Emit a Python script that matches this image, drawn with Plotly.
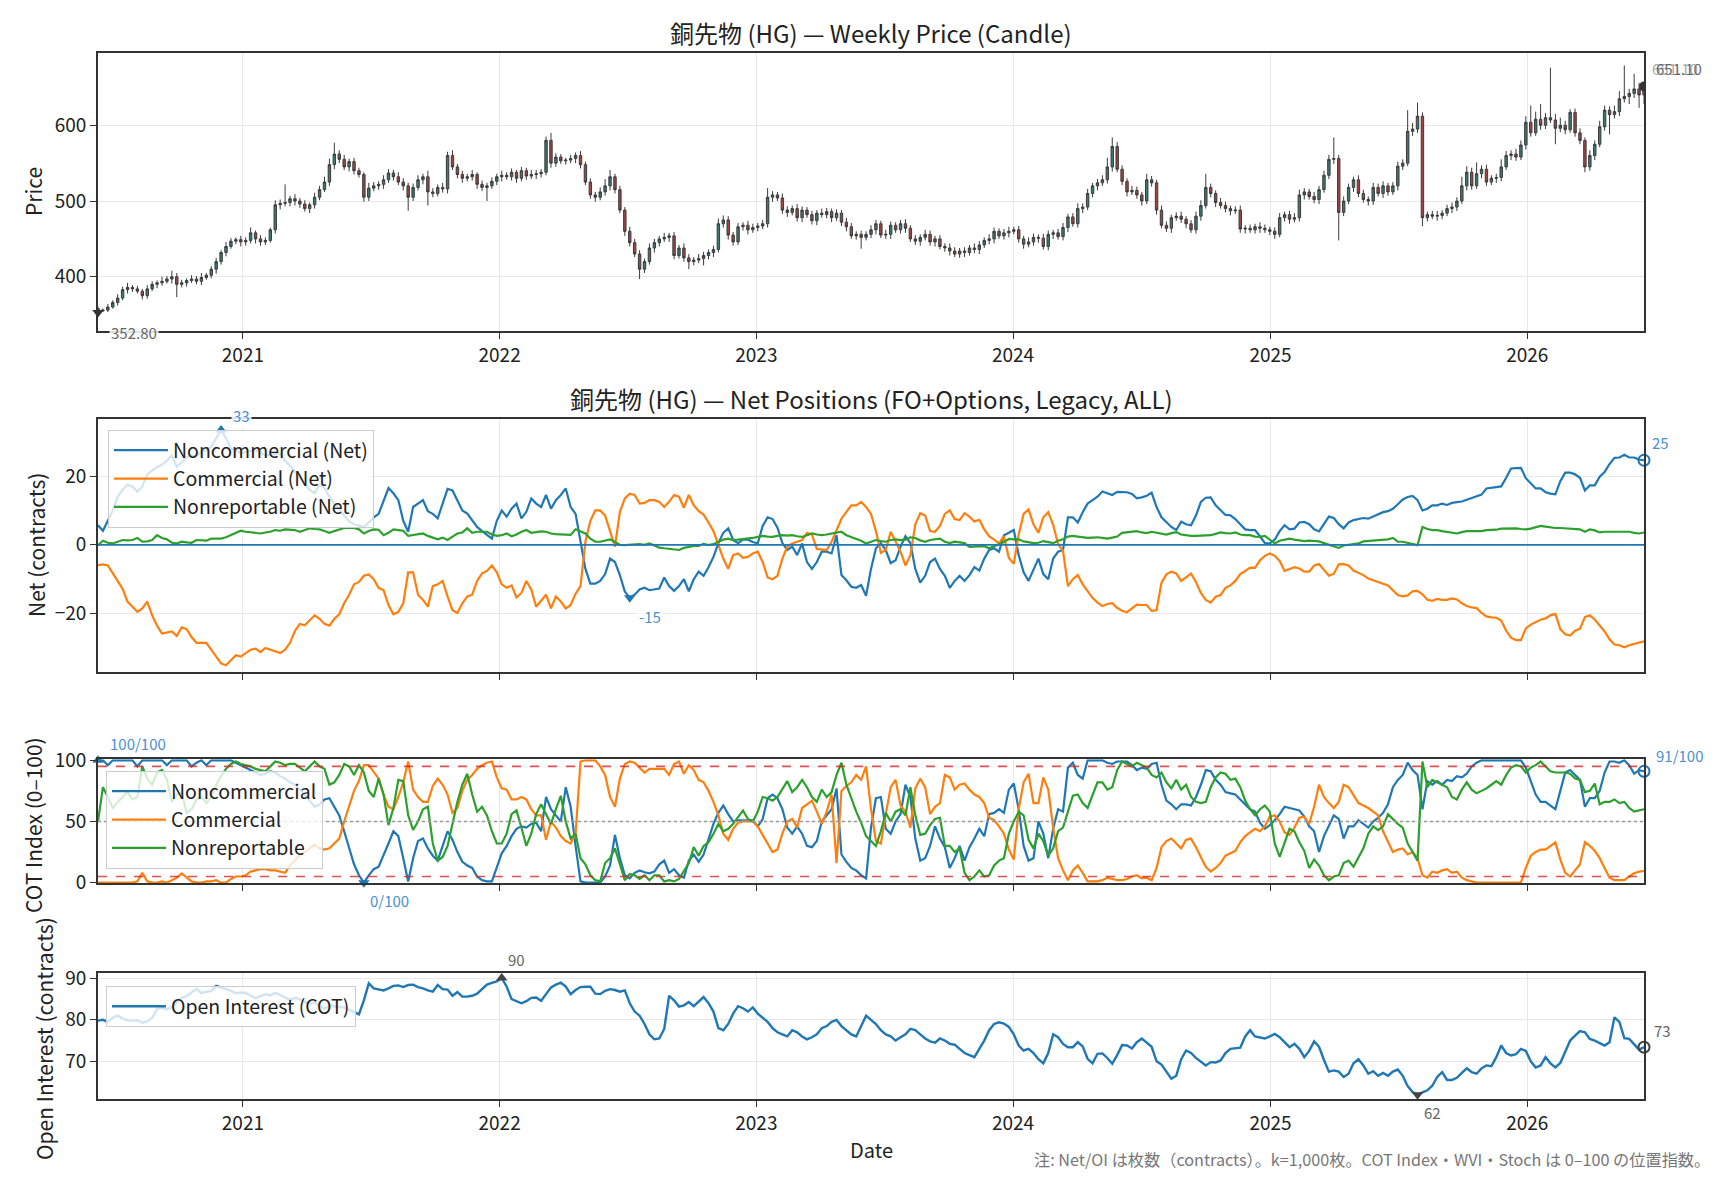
import pandas as pd
import plotly.graph_objects as go

# ---------------- data ----------------
start_date = "2020-06-09"
n_weeks = 315
first_open = 358

close = [
355,356,360,366,372,383,386,384,381,375,
384,390,392,394,397,400,390,392,395,397,
394,399,402,410,420,432,440,447,449,446,
448,458,450,446,448,462,495,497,498,503,
500,496,490,495,505,515,525,548,562,555,
545,552,540,535,505,517,520,522,528,537,
532,525,520,505,518,528,532,512,510,518,
516,560,545,535,530,532,535,522,518,520,
526,532,534,532,538,530,540,533,535,536,
538,580,550,558,553,554,556,560,548,525,
508,505,512,520,532,515,488,460,445,430,
410,420,438,445,450,452,454,428,438,425,
420,422,424,428,432,436,470,475,455,446,
466,468,462,465,467,470,505,508,504,488,
485,490,478,488,482,474,484,482,486,478,
484,472,466,454,456,452,456,462,470,455,
456,468,462,470,464,450,447,452,456,446,
450,440,438,434,430,434,432,438,436,442,
448,450,460,454,458,460,462,450,443,446,
452,451,440,456,458,453,465,479,470,490,
492,510,520,524,528,545,572,542,526,512,
514,508,500,528,524,488,468,464,478,480,
476,470,462,480,494,518,510,498,494,490,
487,488,463,464,462,466,464,462,460,456,
478,482,476,478,508,512,506,502,515,534,
555,556,485,500,518,528,510,502,500,518,
510,520,512,520,546,550,592,595,612,478,
482,480,481,484,490,492,500,520,538,520,
536,542,525,530,531,545,560,562,558,574,
604,590,608,600,610,607,596,600,594,617,
590,580,545,560,575,598,620,614,618,635,
638,642,648,640,651.1]

wick_up = [
3,2,4,3,5,4,6,3,4,3, 5,4,3,6,4,8,5,4,3,5, 4,6,3,4,5,3,6,4,3,5, 4,7,3,5,4,3,6,5,24,4,
6,4,5,3,6,5,7,8,15,5, 6,4,5,4,3,7,5,4,6,5, 4,6,5,4,5,6,4,8,5,4, 6,5,7,4,5,4,6,3,5,4,
5,4,6,4,5,3,5,4,6,5, 4,5,10,5,4,3,5,4,6,4, 5,4,6,9,9,4,5,4,6,5, 5,4,6,5,4,6,4,5,4,6,
5,4,6,5,4,5,7,6,5,4, 5,4,6,5,4,5,12,5,4,6, 5,4,6,5,4,5,4,6,5,4, 5,4,6,5,4,5,4,6,5,4,
6,5,4,5,6,4,5,4,6,5, 4,5,4,6,5,4,5,4,6,5, 4,6,5,4,5,6,4,5,4,6, 5,4,6,5,4,5,6,4,5,7,
5,6,4,5,6,12,12,6,5,4, 6,5,4,8,5,4,6,5,4,5, 6,4,5,6,7,18,5,4,6,5, 4,5,6,4,5,4,6,5,4,5,
6,4,5,6,7,5,4,6,5,6, 6,28,5,6,5,4,6,5,4,6, 5,6,4,5,6,5,28,8,18,5, 4,5,6,4,5,6,5,12,8,6,
15,5,6,4,5,10,6,5,7,6, 8,22,10,20,6,66,8,10,6,4, 5,6,4,7,5,8,6,5,8,10, 41,6,20,8,5]

wick_dn = [
2.2,1.5,2.5,2,4,3,5,4,3,5, 4,3,5,4,3,6,17,4,5,3, 4,5,3,4,6,4,5,3,4,6, 5,4,6,5,4,3,5,6,4,5,
6,5,4,6,5,4,3,5,6,5, 4,6,5,4,6,5,4,5,6,4, 5,4,6,18,5,4,6,18,5,4, 5,6,4,5,6,4,5,6,5,18,
4,5,6,4,5,6,4,5,4,6, 5,4,6,5,4,5,4,6,5,4, 5,6,4,5,6,5,4,6,5,4, 13,5,4,6,5,4,6,5,4,5,
10,5,4,9,5,6,4,5,6,5, 4,5,6,4,5,4,5,6,4,5, 6,4,5,6,4,5,6,4,5,6, 4,5,6,4,5,15,4,5,6,4,
5,6,4,5,6,4,5,6,4,5, 6,4,5,6,4,5,6,4,5,6, 4,5,6,4,5,6,4,5,6,4, 5,6,4,5,6,4,5,6,4,5,
6,4,5,6,4,5,6,4,5,6, 4,5,6,4,5,6,4,5,6,4, 5,6,4,5,6,4,5,6,4,5, 6,4,5,6,4,5,6,4,5,6,
4,5,6,4,5,6,4,5,6,4, 5,6,37,5,4,6,5,4,6,5, 4,6,5,4,6,5,4,6,5,11, 5,4,6,5,4,6,5,4,6,5,
4,6,5,4,6,5,4,6,5,4, 6,5,4,6,5,4,21,5,6,4, 5,5,7,5,6,4,5,26,5,6, 5,10,6,17,12]

nc_net = [
5.7,4.1,7,10,14,16,17.5,17,15.5,17, 20.5,21.5,22.7,23.3,24.5,26,22.7,24,25.5,25.8,
26,27,27.5,28.5,31,33.4,31,28,27.5,26.6, 27,27.4,27.6,26.8,26,26.2,26.4,26.6,24.5,23,
21.5,19.8,17.6,16,15,17.5,16.5,14,12,10.5, 8.5,6.8,6,5.5,5.2,6.5,8,9,13,16.5,
15,13,7,3.8,11,12,13,9.8,9,7.7, 12,16.3,15.8,13,10,9.1,7,5.2,4,3,
1.8,7,10,8.2,10.5,12,7.7,9.6,13.5,12, 11,14.5,10.5,13,14.5,16.4,11,9,1.5,-7,
-11.3,-11.3,-10.5,-8.5,-4,-5,-8.8,-13.6,-15.4,-14.5, -13,-12.5,-13.2,-13,-12.7,-9.5,-12,-13.4,-12,-10,
-13.5,-10,-7.8,-9,-6.5,-3.5,0.5,3.5,4.8,1.4, 0.5,1.5,1.5,0.8,0.4,5.5,8,7.5,5,0.5,
-1.5,-0.5,-3,0.4,-5,-7,-5,-2,-2,-2.5, 2.8,-8.8,-10.3,-12.2,-12.5,-11.7,-14.8,-7,-1,0.5,
-1.5,-5.3,-4.5,-0.5,2.5,0.5,-7,-11,-9,-5, -4,-7,-9,-12.5,-10.5,-9,-10.5,-8.8,-6.5,-7.5,
-4,-1.5,-1,-2,2.8,3.5,4.3,-3,-8,-10.5, -7,-4,-8.5,-10,-4,-2,-1.5,8,8,6.5,
9.5,12,13,14,15.5,15,14.5,15.4,15.3,15.3, 14.8,13.5,13.8,14.3,15.2,11,8,6.5,5.2,4.3,
6.7,6,5.7,8.5,12.5,13.7,13.8,11.5,10.2,8.7, 8.6,7.5,6,4.5,4.3,4.3,2.5,0.5,0.4,1.5,
4,5.7,4.5,4.7,6.5,6.7,6,4.5,3.9,6, 8.2,7.8,6,4.8,6.5,7.2,7.5,7.8,7.6,8.2,
8.8,9.5,9.8,10.5,11.8,13.2,13.9,14.2,13,10, 10.5,11.5,11.5,12,11.6,12.2,12.4,12.6,13.1,13.6,
14,14.6,16.4,16.6,16.8,17,19.5,22.2,22.3,22.4, 19.4,18,16.4,16.4,15.3,14.9,14.7,18.5,21,21,
20.5,19.5,15.8,17.3,17.3,19.8,21.2,23.5,25.3,25.4, 26.2,25.4,25.4,24.8,24.6]

c_net = [
-5.9,-5.7,-6,-8.3,-10.8,-12.8,-16.5,-18,-19.5,-18.5, -16.5,-20.5,-23.5,-25.8,-25.5,-25.2,-26.5,-24,-24.5,-26.8,
-28.5,-28.5,-28.5,-30.5,-32.5,-34.5,-35,-33.5,-32.1,-32.5, -31.5,-30.5,-30.2,-31.2,-30,-30.5,-31.2,-31.5,-30.5,-28.5,
-25,-23,-23.4,-22,-20.5,-21.5,-23,-23.5,-21.5,-20.2, -17,-14.5,-11.5,-10.8,-9,-8.6,-10,-12.5,-13.2,-17.5,
-20.2,-19.5,-17,-8,-8,-14.5,-16,-18,-12,-11.5, -10.5,-15,-19,-19.8,-17,-15,-14.5,-10.5,-8.3,-7.6,
-6,-8,-11.5,-12.5,-11.8,-15.3,-14,-10.5,-13,-18, -16.2,-14.5,-18.5,-15,-16.5,-18.5,-17.5,-14.2,-12,1,
7,10,10,8.5,4,-0.5,9.6,13.5,14.9,14.5, 12,12.2,13,13,12.5,11,12.5,14.5,14,10.8,
14.5,11.5,9.8,8.8,6.5,4,0,-4,-7,-3, -2.5,-3.8,-3.5,-2.5,-2,-5,-9.5,-10,-9,-4,
-0.5,0.4,0.9,1.4,3.5,3,-1.2,-1.3,-1.5,0.9, 4.3,7.6,9.6,11.5,11.5,12.5,11,9,4,-2.3,
-1.5,3.8,1,-2,-6,-3,6,9.2,8.5,4, 3.8,5.5,9,10,7.5,7.2,9.2,8.2,6.8,7.3,
4.5,2.5,1.5,0.4,2.5,-3.8,-5.5,3,9,10.3, 6,3.5,8,9.5,5.8,0.2,-1.8,-12,-10,-8.8,
-11.5,-13.6,-15.4,-16.8,-17.8,-17.2,-17,-18.3,-19.2,-19.6, -18.5,-17.4,-17.5,-17.5,-19.2,-19,-11,-8.6,-7.8,-8.3,
-10.5,-9.5,-8.4,-10.8,-14,-16,-16.8,-15.1,-14.6,-12.5, -11.8,-10.5,-8.5,-7.6,-6.6,-6.7,-4.5,-3.2,-2.5,-3.2,
-4.7,-7.6,-7.1,-6.5,-6.9,-7.8,-7.8,-6,-5.6,-7.4, -9,-8.4,-5.7,-5.6,-6,-7.5,-8.2,-8.8,-9.8,-10.3,
-10.8,-11.4,-11.8,-13.2,-14.6,-15,-14.7,-13.5,-13.4,-14.4, -16,-16.3,-15.7,-16,-16,-15.6,-15.9,-17,-17.8,-18.2,
-18.4,-19.8,-20.8,-21.1,-21.2,-22,-25,-27,-27.7,-27.7, -24.3,-23.2,-22.4,-21.8,-21.4,-20.5,-20.1,-24.5,-26,-26.4,
-25,-24.4,-21,-20.5,-21.7,-23.5,-25.2,-27.5,-29,-29.2, -29.8,-29.2,-28.8,-28.4,-28.1]

nr_net = [
-0.1,1.2,0.6,0.4,0.9,1.4,1.3,1.4,2,0.9, 1,1.4,2.8,2,1.6,0.6,0.4,0.9,0.7,0.6,
1.4,1.3,1.2,1.8,1.8,1.8,2.2,2.8,3.5,4.1, 3.8,3.6,3.4,3.3,3.6,3.8,4.3,4.1,4.5,4.5,
4.3,3.8,4.3,4.8,4.6,4.5,4,3.5,4,4.5, 4.9,5,4.9,4.5,3.3,4,4.5,4.4,2.8,3.5,
4.5,4.3,4.1,2.6,2.8,2.9,3.3,2.6,2.2,1.6, 2.1,1.4,2.4,3.3,3.6,4.8,3.5,3.8,3.8,3.8,
3,2.6,2.8,3.3,2.5,3,3.8,4.3,3.5,3.8, 3.9,3.8,3.3,3.1,3,2.8,2.9,4.5,3.8,3.3,
1.8,0.9,0.9,1.2,1.6,0.8,0,-0.1,0,-0.1, 0.2,0,0.4,-0.2,-0.8,-1,-1.2,-1.5,-1.5,-0.9,
-0.6,-0.3,-0.3,0.3,-0.1,0.2,0.9,1.5,1.8,1.4, 1.5,1.6,1.8,2,2.3,2.6,2.4,2.3,2.6,2.8,
2.7,2.8,2.5,2.3,2.8,3.3,3,2.8,3,3.3, 3.6,3.8,2.8,2.3,1.8,1.2,0.4,0.8,1.4,1.1,
0.9,1.4,1.6,1.4,1.5,2.2,2,1.3,0.9,1.4, 1.6,1.8,0.9,0.5,0.9,0.7,0.5,-0.6,-0.6,-0.4,
-0.4,-1,-0.5,0.2,0.8,1.7,1.6,1.6,1,0.8, 0.5,0.6,1.1,0.8,0.5,1.2,1.6,2.4,2.6,2.4,
2.2,2,2.1,2.2,2,1.8,2.1,2.4,3.5,3.7, 3.9,4,3.6,3.4,3.8,3.5,3.2,3,3.4,3.7,
3,2.7,2.6,2.6,2.6,2.6,2.8,3.2,3.6,3.4, 3.3,3.6,3,2.8,2.8,2.4,2.3,2.6,1.5,0.4,
1.2,1.6,1.8,1.5,1.2,1.1,1.2,1.1,1,0.5, 0.1,-0.5,-0.9,-0.2,0,0.2,0.4,1,1.1,1.2,
1.3,1.4,1.6,2,0.9,0.9,0.6,0.3,-0.1,5.2, 4.6,4.3,4.3,4,3.8,3.6,3.3,3.7,4,4,
4,4,4.3,4.3,4.4,4.7,4.8,4.9,4.8,4.6, 4.5,4.7,5.2,5.5,5.3,5,4.9,4.9,4.8,4.7,
4.5,4.5,3.8,4.5,4.2,3.6,3.8,3.8,3.8,3.7, 3.6,3.8,3.5,3.3,3.6]

nc_idx = [
100,100,96,100,100,100,100,100,95,100, 100,100,100,100,96,100,100,100,100,95,
98,100,96,100,100,100,100,100,98,96, 94,92,90,88,89,91,90,87,85,82,
80,76,72,67,62,64,68,69,62,55, 42,28,15,6,0,6,11,13,22,32,
42,38,20,1,20,34,36,28,22,18, 30,42,35,25,17,14,12,5,2,1,
1,12,24,30,38,44,46,45,48,49, 42,70,60,55,50,78,62,30,1,0,
0,0,0,5,14,39,20,6,3.5,8, 10,8.5,7.6,9,15,18,8,11,6,4,
18,23,17,23,36,48,57,63,56,50, 51,51,51,51,46,52,69,72,69,60,
45,40,46,40,30,29,34,50,55,60, 77,23,17,12,10,6,3.5,45,69,70,
44,40,50,56,80,70,36,18,20,30, 46,36,29,12,20,30,18,29,36,44,
38,56,57,60,57,76,81,60,30,18, 20,50,40,20,44,60,58,94,98,88,
85,100,100,100,100,98,97,99,99,99, 96,92,94,93,97,98,80,67,64,60,
64,64,63,70,80,92,91,84,80,74, 73,72,68,64,60,58,49,44,47,51,
56,62,61,60,59,54,46,42,25,38, 46,55,52,36,46,46,51,48,45,50,
53,57,64,78,84,88,98,92,88,60, 83,80,83,80,84,83,87,86,89,95,
98,100,100,100,100,100,100,100,100,100, 94,83,72,66,66,63,60,75,90,92,
88,84,62,69,69,75,90,99,99,98, 100,96,89,92,91]

c_idx = [
0,0,0,0,0,0,0,0,1,8, 1,0,0,1,0,2,4,7.6,4,1,
0,0,1,1,2,0,0,3,5,5, 6,9,10,11,11,10,10,9,8,14,
18,23,25,28,31,28,27,28,32,36, 50,62,75,83,96,96,90,85,72,62,
60,70,82,99,76,70,66,66,79,85, 80,72,57,61,75,84,88,93,96,98,
99,86,77,76,68,68,70,68,60,55, 55,35,50,45,38,34,32,40,99,100,
100,100,95,88,70,62,85,97,99,98, 94,90,93,93,93,93,88,97,99,89,
96,92,84,82,75,66,55,40,35,44, 49,50,50,50,46,39,33,25,27,40,
50,52,45,61,64,67,58,48,58,72, 16,75,79,82,88,84,95,60,34,32,
56,78,84,63,58,45,77,85,78,56, 62,65,88,86,76,80,81,76,72,70,
65,53,51,46,40,27,19,60,82,89, 65,65,86,76,45,20,10,2,10,14,
8,1,1,1,2,4,3,2,2,3, 5,6,3.5,4,2,12,29,34,36,32,
28,35,36,29,21,13,9,12,16,22, 24,26,33,38,41,44,42,46,54,55,
50,41,39,45,53,54,48,62,80,70, 65,61,66,80,78,72,65,63,61,58,
55,42,33,25,27,28,23,25,20,6, 4,9,8,10,11,8,9,4,2,1,
0,0,0,0,0,0,0,0,0,0, 12,22,25,27,27,30,33,19,8,5,
10,15,33,30,26,20,12,4,2,2, 2,5,7.6,9,9.5]

nr_idx = [
50,78,70,61,66,70,74,68,70,95, 85,80,90,92,84,66,72,74,57,60,
68,70,65,70,80,87,93,97,99,97, 96,95,93,92,91,95,99,98,96,97,
97,94,91,95,99,95,93,80,82,88, 97,95,88,96,90,75,70,85,72,47,
61,84,83,55,43,50,60,62,32,18, 21,30,48,66,80,89,72,58,62,55,
42,32,32,40,56,59,45,30,40,56, 64,56,48,60,71,50,36,40,20,15,
6,2,1,16,20,28,14,2,7,6, 3,6,2,6,6,1,2,1,3,9,
16,29,22,30,33,40,48,42,44,48, 54,59,52,50,58,70,69,67,70,76,
83,74,78,84,78,70,66,76,70,74, 88,98,80,69,58,49,38,34,30,42,
57,50,58,60,55,78,55,39,40,47, 52,53,30,30,25,28,8,2,5,10,
5,6,14,18,20,40,50,58,55,35, 28,40,34,22,28,42,45,58,71,72,
65,61,72,82,82,76,78,92,99,97, 95,98,96,94,88,86,90,82,77,84,
76,80,70,66,65,66,78,86,90,89, 84,85,78,67,60,55,60,63,58,32,
21,33,44,42,33,26,12,19,14,6, 2,5,6,16,18,13,20,28,40,46,
43,46,56,52,48,45,32,25,18,99, 78,84,82,80,78,70,68,76,82,76,
73,75,77,80,83,80,88,94,96,95, 90,94,96,99,95,91,90,90,90,89,
85,84,74,75,81,64,66,66,68,65, 66,61,58,59,60]

oi = [
79.8,80,79.5,80.5,81,80.3,79.9,79.8,79.9,79.3, 79.6,80.5,82.6,82.9,82.5,83,84.3,85.3,85.7,86.5,
87.5,86.5,86.7,87,88.2,87.8,87.4,87,86.4,86.6, 86.5,85.9,85.2,85.7,86.2,85.9,86.5,86,85.4,84.8,
85.3,85,84.3,84,84.1,83.5,82.7,83.4,83.2,83.1, 83,82.4,81.8,81.3,84.7,88.8,87.6,87.3,87.1,87.6,
88.2,88.3,87.9,88.4,88.5,87.9,87.6,87.1,86.8,88.4, 87.4,87.3,85.8,86.7,85.6,85.6,85.8,86.3,87.5,88.5,
88.9,89.3,90.1,88,85,84.5,84,84.5,85.3,85.4, 84.6,86.2,87.8,88.5,89,88,86.2,87.2,87.9,88,
88,86.3,86.2,87,87.4,87.2,86.8,87.1,84,82, 81,79,76.5,75.3,75.5,77.8,85.8,84.7,83.2,83.5,
84.3,83.3,84.5,85.5,84,82,78,77.5,79,81.5, 83.3,82.8,82,83,81.5,80.5,79.5,78,77,76.5,
76,77.5,77,76,75.3,75.8,76.5,78,78.5,79.5, 80,78.5,77.5,76.5,76,78.5,81,80,79,77.5,
76.5,76,75,75.8,76.5,77.8,77.5,76.5,75.5,74.8, 74.5,75.5,75,74.2,74,73,72,71.5,71,73,
75,77.5,79,79.4,79.1,78.3,76.5,73.8,72.6,73, 72,70.5,69.5,72,76.5,75.8,74.2,73.4,73.4,74.6,
73.6,70.6,69.5,71.8,71.9,70.8,69.4,71.5,73.9,73.8, 73.1,74.6,75.5,74.5,73.5,70,69.2,67.5,65.8,66.5,
70.5,72.6,72,70.8,70,69,69.8,69.7,70.2,72, 73,73.2,73.3,76,77.5,76,75.8,75.5,76,76.6,
75.8,74.6,73.4,74.2,73,71,72.5,74.8,73.5,70.3, 67.5,67.8,67.5,66.2,67,69.5,70.5,69,67,67.6,
66.5,67.2,66.5,67.5,68,66.5,64,62.6,61.9,62.5, 63,64.1,66.2,67.4,65.5,65.5,66,67.2,68.3,67.4,
67,68.3,69,68.8,71,73.8,72,71.4,71.7,73, 72.5,70,68.5,69,71,69.5,68.5,69.6,72.5,75,
76.2,77.3,77,75.4,75,74.4,73.8,74.6,80.6,79.5, 75.6,75.4,74,72.8,73.4]

year_ticks = ["2021-01-01", "2022-01-01", "2023-01-01", "2024-01-01", "2025-01-01", "2026-01-01"]
year_labels = ["2021", "2022", "2023", "2024", "2025", "2026"]

title_price = "銅先物 (HG) — Weekly Price (Candle)"
title_net = "銅先物 (HG) — Net Positions (FO+Options, Legacy, ALL)"
footnote = "注: Net/OI は枚数（contracts）。k=1,000枚。COT Index・WVI・Stoch は 0–100 の位置指数。"

# ---------------- derived ----------------
dates = pd.date_range(start_date, periods=n_weeks, freq="7D")
opens = [first_open] + close[:-1]
high = [max(o, c) + w for o, c, w in zip(opens, close, wick_up)]
low = [min(o, c) - w for o, c, w in zip(opens, close, wick_dn)]

FONT = "Noto Sans CJK JP"
C0, C1, C2 = "#1f77b4", "#ff7f0e", "#2ca02c"
ANN_BLUE = "#4a8fcf"
GRAY = "#666666"
W, H = 1728, 1180
TICK = 19
LEG = 19.5

def py(px):
    return 1 - px / H

fig = go.Figure()

# Panel 1: candles
fig.add_trace(go.Candlestick(
    x=dates, open=opens, high=high, low=low, close=close,
    increasing=dict(line=dict(color="#3b3b3b", width=1), fillcolor="#3a7a72"),
    decreasing=dict(line=dict(color="#3b3b3b", width=1), fillcolor="#a04444"),
    whiskerwidth=0, showlegend=False, xaxis="x", yaxis="y", hoverinfo="skip"))

kmin = min(range(n_weeks), key=lambda i: low[i])
fig.add_trace(go.Scatter(x=[dates[kmin]], y=[low[kmin]], mode="markers",
    marker=dict(symbol="triangle-down", size=10, color="#333333"),
    showlegend=False, xaxis="x", yaxis="y", cliponaxis=False))
fig.add_trace(go.Scatter(x=[dates[-1]], y=[close[-1]], mode="markers",
    marker=dict(symbol="circle", size=10, color="#333333"),
    showlegend=False, xaxis="x", yaxis="y"))

# Panel 2: net positions
for name, ys, col in [("Noncommercial (Net)", nc_net, C0),
                      ("Commercial (Net)", c_net, C1),
                      ("Nonreportable (Net)", nr_net, C2)]:
    fig.add_trace(go.Scatter(x=dates, y=ys, mode="lines", name=name,
        line=dict(color=col, width=2.2), xaxis="x2", yaxis="y2",
        legend="legend", legendgroup=name))

knmax = max(range(n_weeks), key=lambda i: nc_net[i])
knmin = min(range(n_weeks), key=lambda i: nc_net[i])
fig.add_trace(go.Scatter(x=[dates[knmax]], y=[nc_net[knmax]], mode="markers",
    marker=dict(symbol="triangle-up", size=10, color=C0), showlegend=False, xaxis="x2", yaxis="y2"))
fig.add_trace(go.Scatter(x=[dates[knmin]], y=[nc_net[knmin]], mode="markers",
    marker=dict(symbol="triangle-down", size=10, color=C0), showlegend=False, xaxis="x2", yaxis="y2"))
fig.add_trace(go.Scatter(x=[dates[-1]], y=[nc_net[-1]], mode="markers",
    marker=dict(symbol="circle-open", size=11, color=C0, line=dict(width=2)),
    showlegend=False, xaxis="x2", yaxis="y2", cliponaxis=False))

# Panel 3: COT index
for name, ys, col in [("Noncommercial", nc_idx, C0),
                      ("Commercial", c_idx, C1),
                      ("Nonreportable", nr_idx, C2)]:
    fig.add_trace(go.Scatter(x=dates, y=ys, mode="lines", name=name,
        line=dict(color=col, width=2.2), xaxis="x3", yaxis="y3",
        legend="legend2", legendgroup=name + "_idx"))

kimax = max(range(n_weeks), key=lambda i: nc_idx[i])
kimin = min(range(n_weeks), key=lambda i: nc_idx[i])
fig.add_trace(go.Scatter(x=[dates[kimax]], y=[nc_idx[kimax]], mode="markers",
    marker=dict(symbol="triangle-up", size=10, color=C0), showlegend=False, xaxis="x3", yaxis="y3", cliponaxis=False))
fig.add_trace(go.Scatter(x=[dates[kimin]], y=[nc_idx[kimin]], mode="markers",
    marker=dict(symbol="triangle-down", size=10, color=C0), showlegend=False, xaxis="x3", yaxis="y3", cliponaxis=False))
fig.add_trace(go.Scatter(x=[dates[-1]], y=[nc_idx[-1]], mode="markers",
    marker=dict(symbol="circle-open", size=11, color=C0, line=dict(width=2)),
    showlegend=False, xaxis="x3", yaxis="y3", cliponaxis=False))

# Panel 4: open interest
fig.add_trace(go.Scatter(x=dates, y=oi, mode="lines", name="Open Interest (COT)",
    line=dict(color=C0, width=2.4), xaxis="x4", yaxis="y4", legend="legend3"))
komax = max(range(n_weeks), key=lambda i: oi[i])
komin = min(range(n_weeks), key=lambda i: oi[i])
fig.add_trace(go.Scatter(x=[dates[komax]], y=[oi[komax]], mode="markers",
    marker=dict(symbol="triangle-up", size=10, color="#444444"), showlegend=False, xaxis="x4", yaxis="y4", cliponaxis=False))
fig.add_trace(go.Scatter(x=[dates[komin]], y=[oi[komin]], mode="markers",
    marker=dict(symbol="triangle-down", size=10, color="#444444"), showlegend=False, xaxis="x4", yaxis="y4", cliponaxis=False))
fig.add_trace(go.Scatter(x=[dates[-1]], y=[oi[-1]], mode="markers",
    marker=dict(symbol="circle-open", size=11, color="#444444", line=dict(width=2)),
    showlegend=False, xaxis="x4", yaxis="y4", cliponaxis=False))

# ---------------- axes ----------------
xdom = [98 / W, 1644 / W]
xr = [dates[0], dates[-1]]
common_x = dict(type="date", range=xr, domain=xdom, showgrid=True, gridcolor="#e8e8e8",
                tickvals=year_ticks, ticktext=year_labels, ticks="outside", ticklen=6,
                tickcolor="#333", showline=True, linecolor="#333", linewidth=1.6, mirror=True,
                zeroline=False, automargin=False, tickfont=dict(size=TICK, color="#222"))
common_y = dict(showgrid=True, gridcolor="#e8e8e8", ticks="outside", ticklen=6, tickcolor="#333",
                showline=True, linecolor="#333", linewidth=1.6, mirror=True, zeroline=False,
                automargin=False, tickfont=dict(size=TICK, color="#222"))

def legend_style(x, y, gap=0):
    return dict(x=x, y=y, xanchor="left", yanchor="top", itemwidth=54,
                bgcolor="rgba(255,255,255,0.8)", bordercolor="#cccccc", borderwidth=1,
                font=dict(size=LEG, family=FONT, color="#222"), tracegroupgap=gap)

fig.update_layout(
    width=W, height=H, margin=dict(l=0, r=0, t=0, b=0, pad=0, autoexpand=False), autosize=False,
    paper_bgcolor="white", plot_bgcolor="white",
    font=dict(family=FONT, color="#222"),
    xaxis=dict(common_x, anchor="y", rangeslider=dict(visible=False)),
    xaxis2=dict(common_x, anchor="y2", showticklabels=False),
    xaxis3=dict(common_x, anchor="y3", showticklabels=False),
    xaxis4=dict(common_x, anchor="y4"),
    yaxis=dict(common_y, domain=[py(331), py(53)], range=[328.4, 695.4], tickvals=[400, 500, 600], anchor="x"),
    yaxis2=dict(common_y, domain=[py(671.7), py(419)], range=[-36.9, 36.6], tickvals=[-20, 0, 20], anchor="x2"),
    yaxis3=dict(common_y, domain=[py(883), py(759.3)], range=[-0.3, 100.8], tickvals=[0, 50, 100], anchor="x3"),
    yaxis4=dict(common_y, domain=[py(1099), py(973)], range=[60.9, 91.3], tickvals=[70, 80, 90], anchor="x4"),
    legend=legend_style(108 / W, py(430)),
    legend2=legend_style(106 / W, py(771)),
    legend3=legend_style(106 / W, py(986)),
)

# reference lines
fig.add_shape(type="line", xref="x2 domain", yref="y2", x0=0, x1=1, y0=0, y1=0,
              line=dict(color=C0, width=1.8))
for yv in (95, 5):
    fig.add_shape(type="line", xref="x3 domain", yref="y3", x0=0, x1=1, y0=yv, y1=yv,
                  line=dict(color="rgba(214,39,40,0.8)", width=1.6, dash="dash"))
fig.add_shape(type="line", xref="x3 domain", yref="y3", x0=0, x1=1, y0=50, y1=50,
              line=dict(color="#999999", width=1.4, dash="dot"))

anns = []
def txt(text, x, y, size=20, color="#222", **kw):
    anns.append(dict(text=text, x=x, y=y, xref="paper", yref="paper", showarrow=False,
                     yanchor="middle", font=dict(size=size, color=color, family=FONT), **kw))

txt(title_price, 871 / W, py(33), size=24, xanchor="center")
txt(title_net, 871 / W, py(398), size=24, xanchor="center")
txt("Price", 33 / W, py(192), size=21, textangle=-90, xanchor="center")
txt("Net (contracts)", 36 / W, py(545), size=21, textangle=-90, xanchor="center")
txt("COT Index (0–100)", 33 / W, py(825), size=21, textangle=-90, xanchor="center")
txt("Open Interest (contracts)", 44 / W, py(1039), size=21, textangle=-90, xanchor="center")
txt("Date", 871 / W, py(1149), size=20, xanchor="center")
txt(footnote, 1712 / W, py(1159), size=16.2, color="#777777", xanchor="right")

def dann(text, x, y, xr_, yr_, xs, ys, color, bg=None, size=15):
    d = dict(text=text, x=x, y=y, xref=xr_, yref=yr_, showarrow=False, xshift=xs, yshift=ys,
             font=dict(size=size, color=color, family=FONT))
    if bg:
        d["bgcolor"] = bg
        d["borderpad"] = 1
    anns.append(d)

WB = "rgba(255,255,255,0.85)"
dann(f"{low[kmin]:.2f}", dates[kmin], low[kmin], "x", "y", 36, -20, GRAY, WB)
dann(f"{close[-1]:.2f}", dates[-1], close[-1], "x", "y", 31, 18, "#aaaaaa")
dann(f"{close[-1]:.2f}", dates[-1], close[-1], "x", "y", 35, 18, GRAY)
dann(f"{nc_net[knmax]:.0f}", dates[knmax], nc_net[knmax], "x2", "y2", 20, 15, ANN_BLUE, WB)
dann(f"{nc_net[knmin]:.0f}", dates[knmin], nc_net[knmin], "x2", "y2", 20, -19, ANN_BLUE, WB)
dann(f"{nc_net[-1]:.0f}", dates[-1], nc_net[-1], "x2", "y2", 16, 18, ANN_BLUE)
dann(f"{nc_idx[kimax]:.0f}/100", dates[kimax], nc_idx[kimax], "x3", "y3", 40, 17, ANN_BLUE)
dann(f"{nc_idx[kimin]:.0f}/100", dates[kimin], nc_idx[kimin], "x3", "y3", 26, -18, ANN_BLUE)
dann(f"{nc_idx[-1]:.0f}/100", dates[-1], nc_idx[-1], "x3", "y3", 36, 16, ANN_BLUE)
dann(f"{oi[komax]:.0f}", dates[komax], oi[komax], "x4", "y4", 15, 18, GRAY)
dann(f"{oi[komin]:.0f}", dates[komin], oi[komin], "x4", "y4", 15, -18, GRAY)
dann(f"{oi[-1]:.0f}", dates[-1], oi[-1], "x4", "y4", 18, 17, GRAY)

fig.update_layout(annotations=anns)
fig.write_html("out.html")
